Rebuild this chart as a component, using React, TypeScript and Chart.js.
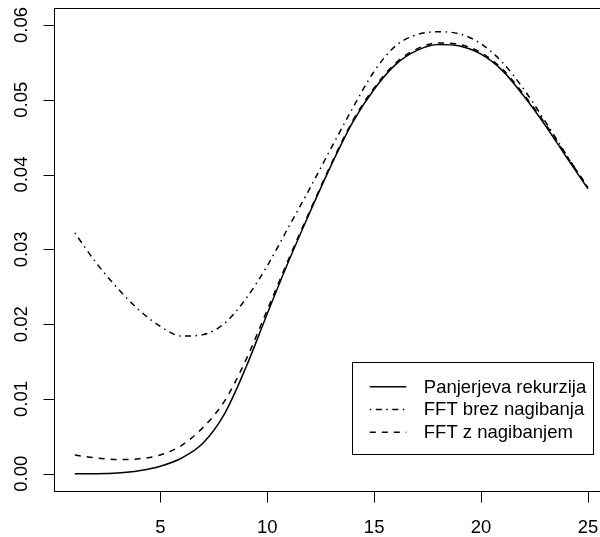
import React, { useEffect, useRef } from "react";
import { Chart, registerables } from "chart.js";

Chart.register(...registerables);

// ---- data ----
const xValues = [1, 2, 3, 4, 5, 6, 7, 8, 9, 10, 11, 12, 13, 14, 15, 16, 17, 18, 19, 20, 21, 22, 23, 24, 25];
const panjerValues = [0, 0.00001, 0.0001, 0.0004, 0.001, 0.0021, 0.0041, 0.008, 0.0142, 0.0214, 0.0284, 0.035, 0.0413, 0.047, 0.0514, 0.0547, 0.0566, 0.0574, 0.0572, 0.0561, 0.0539, 0.0505, 0.0466, 0.0423, 0.0381];
const fftBrezValues = [0.0322, 0.0282, 0.0248, 0.0219, 0.0197, 0.0184, 0.0186, 0.0201, 0.0234, 0.0278, 0.033, 0.0382, 0.0436, 0.0489, 0.0538, 0.0572, 0.0587, 0.0591, 0.0588, 0.0575, 0.055, 0.0514, 0.0471, 0.0426, 0.0382];
const fftZValues = [0.0025, 0.0021, 0.0019, 0.002, 0.0025, 0.0038, 0.0062, 0.0097, 0.0152, 0.0219, 0.0287, 0.0352, 0.0415, 0.0472, 0.0516, 0.0549, 0.0568, 0.0576, 0.0574, 0.0563, 0.0541, 0.0507, 0.0468, 0.0425, 0.0383];
const seriesLabels = ["Panjerjeva rekurzija", "FFT brez nagibanja", "FFT z nagibanjem"];
const xTicks = [5, 10, 15, 20, 25];
const xTickLabels = ["5", "10", "15", "20", "25"];
const yTicks = [0, 0.01, 0.02, 0.03, 0.04, 0.05, 0.06];
const yTickLabels = ["0.00", "0.01", "0.02", "0.03", "0.04", "0.05", "0.06"];

const FONT = '18.5px "Liberation Sans", Arial, Helvetica, sans-serif';
const DASHES: number[][] = [[], [1.5, 4.5, 6, 4.5], [6, 6]];

const rPlotPlugin = {
  id: "rPlot",
  afterDraw(chart: any) {
    const ctx = chart.ctx as CanvasRenderingContext2D;
    const area = chart.chartArea;
    const xs = chart.scales.x;
    const ys = chart.scales.y;
    ctx.save();
    ctx.strokeStyle = "#000";
    ctx.fillStyle = "#000";
    ctx.lineWidth = 1;
    ctx.setLineDash([]);
    // box
    const L = Math.round(area.left) + 0.5;
    const T = Math.round(area.top) + 0.5;
    const R = Math.round(area.right) + 0.5;
    const B = Math.round(area.bottom) + 0.5;
    ctx.strokeRect(L, T, R - L, B - T);
    const tickLen = 11;
    // x axis
    ctx.beginPath();
    const x0 = Math.round(xs.getPixelForValue(xTicks[0])) + 0.5;
    const x1 = Math.round(xs.getPixelForValue(xTicks[xTicks.length - 1])) + 0.5;
    ctx.moveTo(x0, B);
    ctx.lineTo(x1, B);
    xTicks.forEach((t) => {
      const px = Math.round(xs.getPixelForValue(t)) + 0.5;
      ctx.moveTo(px, B);
      ctx.lineTo(px, B + tickLen);
    });
    ctx.stroke();
    ctx.font = FONT;
    ctx.textAlign = "center";
    ctx.textBaseline = "alphabetic";
    xTicks.forEach((t, i) => {
      const px = xs.getPixelForValue(t);
      ctx.fillText(xTickLabels[i], px, area.bottom + 42);
    });
    // y axis
    ctx.beginPath();
    const y0 = Math.round(ys.getPixelForValue(yTicks[0])) + 0.5;
    const y1 = Math.round(ys.getPixelForValue(yTicks[yTicks.length - 1])) + 0.5;
    ctx.moveTo(L, y0);
    ctx.lineTo(L, y1);
    yTicks.forEach((t) => {
      const py = Math.round(ys.getPixelForValue(t)) + 0.5;
      ctx.moveTo(L, py);
      ctx.lineTo(L - tickLen, py);
    });
    ctx.stroke();
    yTicks.forEach((t, i) => {
      const py = ys.getPixelForValue(t);
      ctx.save();
      ctx.translate(area.left - 27.8, py);
      ctx.rotate(-Math.PI / 2);
      ctx.textAlign = "center";
      ctx.textBaseline = "alphabetic";
      ctx.fillText(yTickLabels[i], 0, 0);
      ctx.restore();
    });
    // legend
    const boxRight = area.right - 15.2;
    const boxLeft = boxRight - 241;
    const boxBottom = area.bottom - 37.7;
    const boxTop = boxBottom - 91.6;
    ctx.fillStyle = "#fff";
    ctx.fillRect(boxLeft, boxTop, boxRight - boxLeft, boxBottom - boxTop);
    ctx.fillStyle = "#000";
    ctx.strokeRect(Math.round(boxLeft) + 0.5, Math.round(boxTop) + 0.5, Math.round(boxRight - boxLeft), Math.round(boxBottom - boxTop));
    const rows = [25, 47.8, 70.6];
    ctx.textAlign = "left";
    chart.data.datasets.forEach((ds: any, i: number) => {
      const ry = boxTop + rows[i];
      ctx.save();
      ctx.lineWidth = 1.5;
      ctx.setLineDash(ds.borderDash || []);
      ctx.beginPath();
      ctx.moveTo(boxLeft + 17.5, ry);
      ctx.lineTo(boxLeft + 54, ry);
      ctx.stroke();
      ctx.restore();
      ctx.fillText(ds.label, boxLeft + 71.5, ry + 5.8);
    });
    ctx.restore();
  },
};

export default function App() {
  const canvasRef = useRef<HTMLCanvasElement | null>(null);
  useEffect(() => {
    if (!canvasRef.current) return;
    const seriesValues = [panjerValues, fftBrezValues, fftZValues];
    const chart = new Chart(canvasRef.current, {
      type: "line",
      data: {
        datasets: seriesValues.map((vals, i) => ({
          label: seriesLabels[i],
          data: xValues.map((x, j) => ({ x, y: vals[j] })),
          borderColor: "#000",
          backgroundColor: "#000",
          borderWidth: 1.5,
          borderDash: DASHES[i],
          pointRadius: 0,
          fill: false,
          cubicInterpolationMode: "monotone" as const,
        })),
      },
      options: {
        animation: false,
        responsive: false,
        devicePixelRatio: 1,
        layout: { padding: { left: 54.3, top: 7.5, right: 11.5, bottom: 46 } },
        plugins: { legend: { display: false }, tooltip: { enabled: false } },
        events: [],
        scales: {
          x: { type: "linear", min: 0.04, max: 25.96, display: false },
          y: { type: "linear", min: -0.00231, max: 0.06234, display: false },
        },
      },
      plugins: [rPlotPlugin],
    });
    return () => chart.destroy();
  }, []);
  return (
    <div style={{ position: "fixed", left: 0, top: 0, width: 600, height: 537, overflow: "hidden", background: "#fff" }}>
      <canvas ref={canvasRef} width={620} height={537} style={{ display: "block", width: 620, height: 537 }} />
    </div>
  );
}
